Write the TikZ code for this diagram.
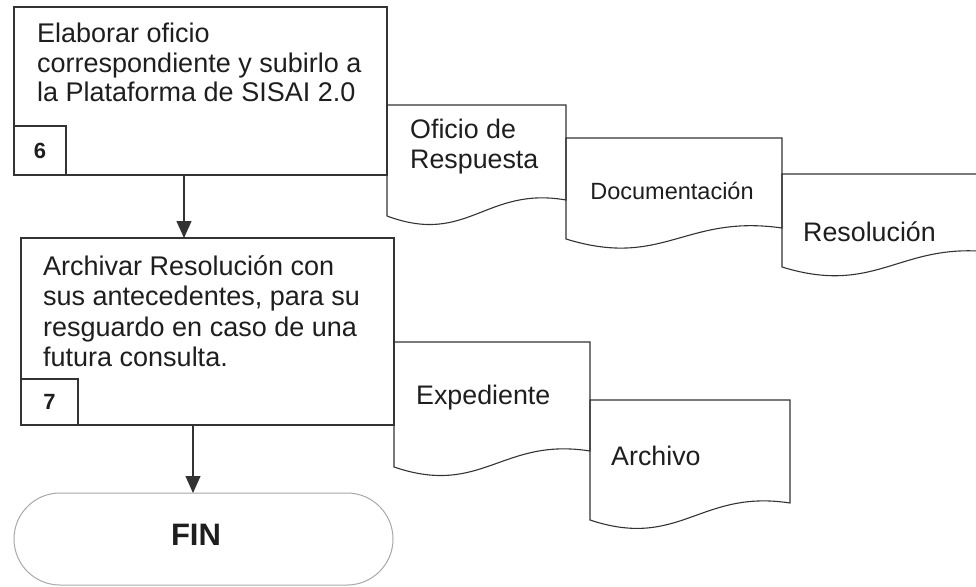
\documentclass[tikz,border=0pt]{standalone}
\usepackage{fontspec}
\setmainfont{Liberation Sans}
\usetikzlibrary{arrows.meta,calc}
\definecolor{ink}{HTML}{333333}
\definecolor{txt}{HTML}{1E1E1E}
\definecolor{termgray}{HTML}{A8A8A8}
\newcommand{\docoutline}[2]{%
  \draw[line] (#1.north west) -- (#1.south west)
    .. controls ($(#1.south west)!0.45!(#1.south east)+(0,30)$)
    and ($(#1.south west)!0.55!(#1.south east)+(0,{-(#2+14)})$)
    .. ($(#1.south east)+(0,-#2)$) -- (#1.north east) -- cycle;}
\tikzset{
  line/.style={draw=ink, line width=1.1pt},
  procbox/.style={rectangle, line, inner sep=0pt, outer sep=0pt, anchor=north west},
  numbox/.style={rectangle, line, inner sep=0pt, outer sep=0pt, anchor=north west,
    text=txt, font=\fontsize{22}{24}\selectfont\bfseries},
  docbody/.style={rectangle, draw=none, inner sep=0pt, outer sep=0pt, anchor=north west},
  ptext/.style={inner sep=0pt, align=left, text=txt, anchor=north west},
  dtext/.style={inner sep=0pt, align=left, text=txt, anchor=west,
    font=\fontsize{26.8}{30}\selectfont},
  term/.style={rectangle, draw=termgray, line width=1pt, rounded corners=46pt,
    inner sep=0pt, outer sep=0pt},
  arr/.style={line, -{Triangle[width=15pt,length=17pt]}, shorten >=0pt}
}
\begin{document}
\begin{tikzpicture}[x=1pt, y=-1pt]
\useasboundingbox (0,0) rectangle (976,586);

% step 6
\node[procbox, minimum width=373pt, minimum height=168pt] (b6) at (14,7) {};
\node[numbox, minimum width=52pt, minimum height=49pt] (b6n) at (14,126) {6};
\node[ptext, font=\fontsize{27}{29.5}\selectfont] (b6t) at (37,23)
  {Elaborar oficio\\correspondiente y subirlo a\\la Plataforma de SISAI 2.0};

% step 7
\node[procbox, minimum width=373pt, minimum height=187pt] (b7) at (21,238) {};
\node[numbox, minimum width=57pt, minimum height=46pt] (b7n) at (21,379) {7};
\node[ptext, font=\fontsize{27}{30.5}\selectfont] (b7t) at (43,255)
  {Archivar Resolución con\\sus antecedentes, para su\\resguardo en caso de una\\futura consulta.};

% terminal
\node[term, minimum width=379pt, minimum height=92pt] (fin) at (203.5,539) {};
\node[inner sep=0pt, text=txt, font=\fontsize{31}{33}\selectfont\bfseries] (fint) at (196,535) {FIN};

% arrows
\coordinate (ax1) at (184,0);
\coordinate (ax2) at (193,0);
\draw[arr] (b6.south -| ax1) -- (b7.north -| ax1);
\draw[arr] (b7.south -| ax2) -- (fin.north -| ax2);

% documents, first group
\node[docbody, minimum width=179pt, minimum height=111pt] (ofi) at (387,105) {};
\docoutline{ofi}{16}
\node[dtext] (ofit) at (410,147) {Oficio de\\Respuesta};

\node[docbody, minimum width=216pt, minimum height=101pt] (docu) at (566,138) {};
\docoutline{docu}{11}
\node[inner sep=0pt, text=txt, font=\fontsize{23.5}{26}\selectfont] (docut) at (672,191) {Documentación};

\begin{scope}
\clip (0,0) rectangle (976,586);
\node[docbody, minimum width=216pt, minimum height=93pt] (res) at (782,174) {};
\docoutline{res}{14}
\end{scope}
\node[dtext] (rest) at (803,232) {Resolución};

% documents, second group
\node[docbody, minimum width=196pt, minimum height=125pt] (exp) at (394,342) {};
\docoutline{exp}{16}
\node[dtext] (expt) at (416,398) {Expediente};

\node[docbody, minimum width=200pt, minimum height=120pt] (arc) at (590,400) {};
\docoutline{arc}{17}
\node[dtext] (arct) at (611,456) {Archivo};
\end{tikzpicture}
\end{document}
